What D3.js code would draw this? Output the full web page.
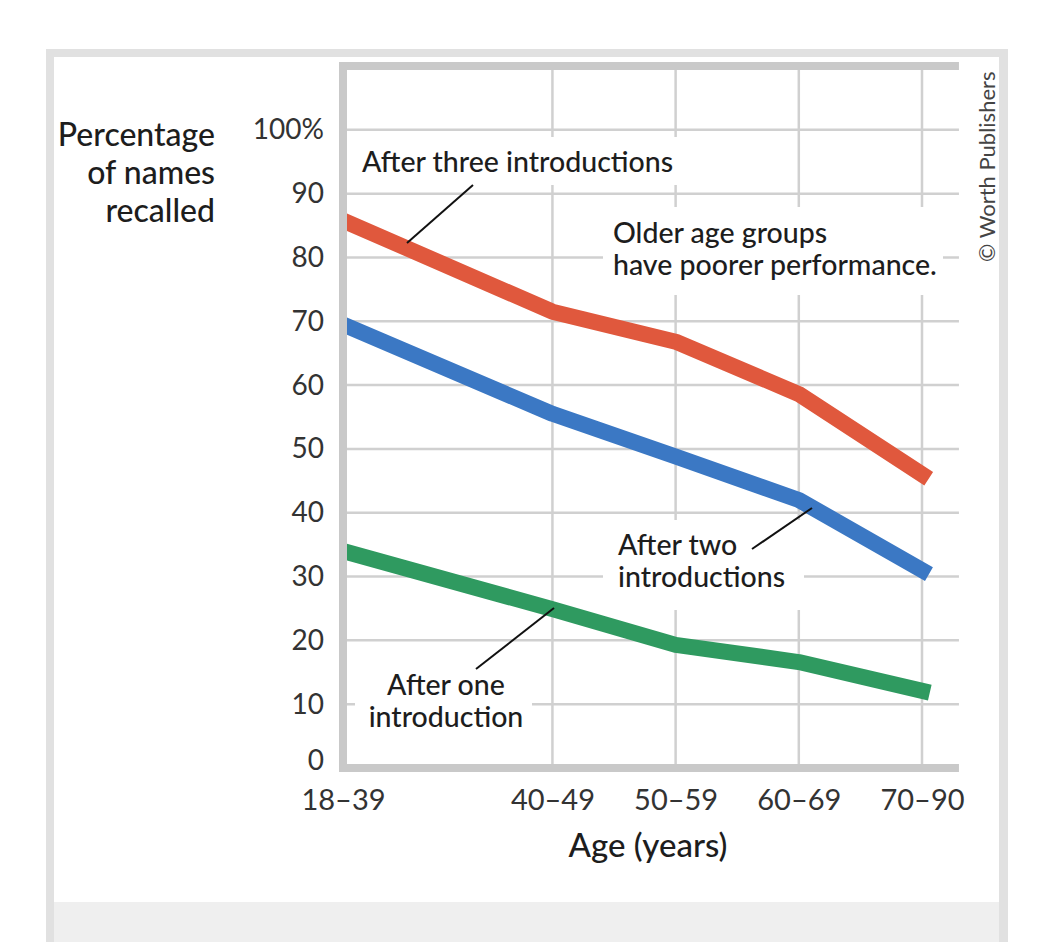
<!DOCTYPE html>
<html>
<head>
<meta charset="utf-8">
<script src="https://cdn.jsdelivr.net/npm/d3@7"></script>
<style>
  body { margin: 0; background: #fff; }
  svg text { font-family: Lato, "Noto Sans", sans-serif; }
</style>
</head>
<body>
<svg id="chart" width="1054" height="942"></svg>
<script>
// age groups and the age each group is plotted at
const ageGroups = ["18–39", "40–49", "50–59", "60–69", "70–90"];
const ageMid = [28, 45, 55, 65, 75];

// percentage of names recalled
const afterThree = [85.8, 71.5, 66.8, 58.6, 46.0];
const afterTwo = [69.5, 55.5, 48.8, 42.0, 31.0];
const afterOne = [34.0, 24.9, 19.3, 16.6, 12.1];

const yTicks = [0, 10, 20, 30, 40, 50, 60, 70, 80, 90, 100];

const seriesList = [
  { name: "three", values: afterThree, color: "#e0583d" },
  { name: "two", values: afterTwo, color: "#3b78c4" },
  { name: "one", values: afterOne, color: "#2f9a60" }
];

const svg = d3.select("#chart");

// page frame
svg.append("rect").attr("x", 46).attr("y", 49).attr("width", 962).attr("height", 900).attr("fill", "#e1e1e1");
svg.append("rect").attr("x", 54).attr("y", 57).attr("width", 945).attr("height", 845).attr("fill", "#fff");
svg.append("rect").attr("x", 54).attr("y", 902).attr("width", 945).attr("height", 45).attr("fill", "#efefef");

// scales
const x = d3.scaleLinear().domain([28, 75]).range([343, 922]);
const y = d3.scaleLinear().domain([0, 110]).range([768, 66]);
const xEnd = 78; // right edge of the grid, in age units
const yTop = 110;

const gridColor = "#d0d0d0";

// horizontal grid
svg.append("g").selectAll("line")
  .data(yTicks.filter(d => d > 0))
  .join("line")
    .attr("x1", x(28)).attr("x2", x(xEnd))
    .attr("y1", d => y(d)).attr("y2", d => y(d))
    .attr("stroke", gridColor).attr("stroke-width", 2.5);

// vertical grid
svg.append("g").selectAll("line")
  .data(ageMid.slice(1))
  .join("line")
    .attr("x1", d => x(d)).attr("x2", d => x(d))
    .attr("y1", y(yTop)).attr("y2", y(0))
    .attr("stroke", gridColor).attr("stroke-width", 2.5);

// white knock-outs behind the labels
const boxes = [
  [355, 137, 330, 48],
  [603, 207, 340, 88],
  [603, 520, 201, 90],
  [355, 652, 177, 106]
];
svg.append("g").selectAll("rect")
  .data(boxes)
  .join("rect")
    .attr("x", d => d[0]).attr("y", d => d[1])
    .attr("width", d => d[2]).attr("height", d => d[3])
    .attr("fill", "#fff");

// lines
svg.append("clipPath").attr("id", "plotclip")
  .append("rect").attr("x", x(28) + 4).attr("y", 0).attr("width", 700).attr("height", 942);

const line = d3.line()
  .x((d, i) => x(ageMid[i]))
  .y(d => y(d));

svg.append("g").attr("clip-path", "url(#plotclip)")
  .selectAll("path")
  .data(seriesList)
  .join("path")
    .attr("d", d => line(d.values))
    .attr("fill", "none")
    .attr("stroke", d => d.color)
    .attr("stroke-width", 16)
    .attr("stroke-linejoin", "round")
    .attr("stroke-linecap", "square");

// plot frame: left, top and bottom bars
const frameColor = "#c9c9c9";
svg.append("line").attr("x1", x(28)).attr("x2", x(28)).attr("y1", y(yTop) - 4).attr("y2", y(0) + 4)
  .attr("stroke", frameColor).attr("stroke-width", 8);
svg.append("line").attr("x1", x(28) - 4).attr("x2", x(xEnd)).attr("y1", y(yTop)).attr("y2", y(yTop))
  .attr("stroke", frameColor).attr("stroke-width", 8);
svg.append("line").attr("x1", x(28) - 4).attr("x2", x(xEnd)).attr("y1", y(0)).attr("y2", y(0))
  .attr("stroke", frameColor).attr("stroke-width", 8);

// y axis labels
const yAxis = d3.axisLeft(y)
  .tickValues(yTicks)
  .tickSize(0)
  .tickPadding(19)
  .tickFormat(d => d === 100 ? "100%" : d);
const gy = svg.append("g").attr("transform", `translate(${x(28)},0)`).call(yAxis);
gy.select(".domain").remove();
gy.selectAll("text")
  .attr("font-size", 28).attr("fill", "#333").attr("font-family", "Lato")
  .attr("dy", d => d === 0 ? "0.05em" : "0.32em");

// x axis labels
const xAxis = d3.axisBottom(x)
  .tickValues(ageMid)
  .tickSize(0)
  .tickPadding(0)
  .tickFormat((d, i) => ageGroups[i]);
const gx = svg.append("g").attr("transform", `translate(0,${y(0)})`).call(xAxis);
gx.select(".domain").remove();
gx.selectAll("text")
  .attr("font-size", 29).attr("fill", "#333").attr("font-family", "Lato")
  .attr("y", 42).attr("dy", 0);

// axis titles
svg.append("text")
  .attr("x", 648).attr("y", 857)
  .attr("text-anchor", "middle")
  .attr("font-size", 33).attr("font-weight", 500).attr("fill", "#1d1d1d")
  .text("Age (years)");

const yTitle = ["Percentage", "of names", "recalled"];
svg.append("g").selectAll("text")
  .data(yTitle)
  .join("text")
    .attr("x", 215).attr("y", (d, i) => 146 + i * 38)
    .attr("text-anchor", "end")
    .attr("font-size", 32).attr("font-weight", 500).attr("fill", "#1d1d1d")
    .text(d => d);

// leader lines
const leaders = [
  [473, 185, 407, 243],
  [752, 549, 812, 508],
  [476, 669, 554, 608]
];
svg.append("g").selectAll("line")
  .data(leaders)
  .join("line")
    .attr("x1", d => d[0]).attr("y1", d => d[1])
    .attr("x2", d => d[2]).attr("y2", d => d[3])
    .attr("stroke", "#111").attr("stroke-width", 2);

// annotations
const notes = [
  { lines: ["After three introductions"], x: 362, y: 172, anchor: "start" },
  { lines: ["Older age groups", "have poorer performance."], x: 613, y: 243, anchor: "start" },
  { lines: ["After two", "introductions"], x: 618, y: 555, anchor: "start" },
  { lines: ["After one", "introduction"], x: 446, y: 695, anchor: "middle" }
];
notes.forEach(n => {
  svg.append("g").selectAll("text")
    .data(n.lines)
    .join("text")
      .attr("x", n.x).attr("y", (d, i) => n.y + i * 32)
      .attr("text-anchor", n.anchor)
      .attr("font-size", 28.5).attr("font-weight", 500).attr("fill", "#1d1d1d")
      .text(d => d);
});

// credit
svg.append("text")
  .attr("transform", "translate(995,262) rotate(-90)")
  .attr("font-size", 22).attr("fill", "#444")
  .text("© Worth Publishers");
</script>
</body>
</html>
